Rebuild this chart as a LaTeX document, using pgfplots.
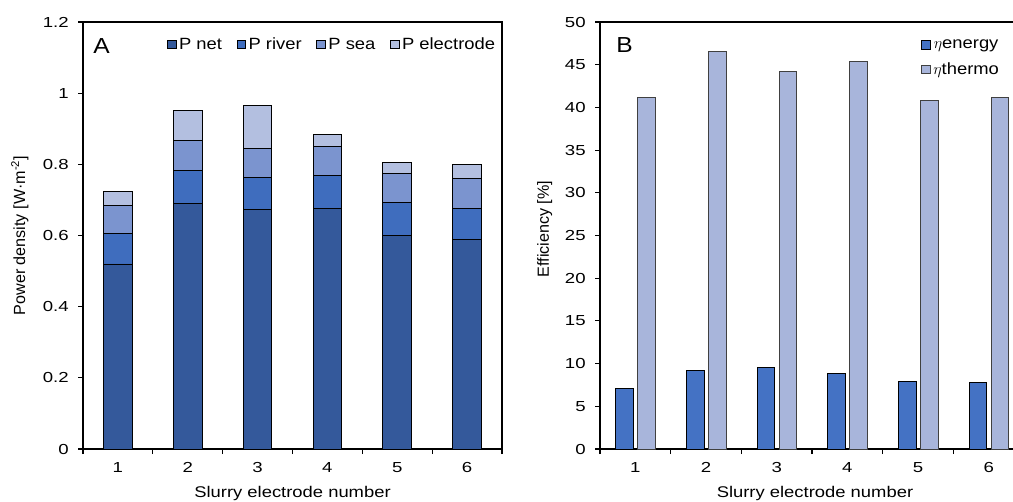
\documentclass[border=0pt]{standalone}
\usepackage{pgfplots}
\pgfplotsset{compat=1.18}
\usepackage{fontspec}
\setmainfont{Liberation Sans}[FakeStretch=1.13]
\newfontfamily\yfont{Liberation Sans}
\newfontfamily\tickfont{Liberation Sans}[FakeStretch=1.28]
\newfontfamily\xlabfont{Liberation Sans}[FakeStretch=1.19]
\definecolor{pnet}{HTML}{34599B}
\definecolor{priver}{HTML}{3F6DBE}
\definecolor{psea}{HTML}{7B94CF}
\definecolor{pelec}{HTML}{B3BFE0}
\definecolor{energy}{HTML}{4472C4}
\definecolor{thermo}{HTML}{A8B5DB}
\pgfplotsset{
  common/.style={
    scale only axis, anchor=south west,
    height=320.25pt,
    xmin=0.5, xmax=6.5, ymin=0,
    axis line style={line width=0.9pt},
    tick align=outside, ytick pos=left, xtick pos=bottom,
    major tick length=3.75pt,
    tick style={line width=0.8pt, black},
    xtick={0.5,1.5,...,6.5}, xticklabels={},
    extra x ticks={1,2,3,4,5,6},
    extra x tick labels={1,2,3,4,5,6},
    extra x tick style={major tick length=0pt},
    tick label style={font=\tickfont\fontsize{10.9pt}{12pt}\selectfont},
    yticklabel style={xshift=-3.5pt},
    xticklabel style={yshift=-6.3pt},
    /pgf/number format/assume math mode=true,
    xlabel style={anchor=base, inner sep=0pt, font=\xlabfont\fontsize{11.6pt}{14pt}\selectfont},
    ylabel style={anchor=base, inner sep=0pt, font=\yfont\fontsize{12.1pt}{14pt}\selectfont},
    legend style={draw=none, fill=none, font=\fontsize{12.2pt}{14pt}\selectfont},
  },
  sqlegend/.style={
    legend image code/.code={\draw[##1, line width=0.6pt] (0pt,-3.2pt) rectangle (6.4pt,3.2pt);},
  },
}
\begin{document}
\begin{tikzpicture}
\begin{axis}[common,
  at={(62.25pt,39pt)}, width=314.25pt,
  ymax=1.2, ytick={0,0.2,0.4,0.6,0.8,1,1.2},
  ybar stacked, bar width=0.41,
  sqlegend,
  xlabel={Slurry electrode number},
  xlabel style={at={(axis description cs:0.5,-0.114)}},
  ylabel={Power density [W·m\textsuperscript{-2}]},
  ylabel style={at={(axis description cs:-0.1384,0.5)}},
  legend columns=4,
  legend style={at={(rel axis cs:1.0,0.947)}, anchor=east,
    /tikz/every even column/.append style={column sep=9pt}},
]
\addplot[fill=pnet, draw=black, line width=0.7pt] coordinates {(1,0.52) (2,0.69) (3,0.672) (4,0.677) (5,0.601) (6,0.589)};
\addplot[fill=priver, draw=black, line width=0.7pt] coordinates {(1,0.085) (2,0.093) (3,0.091) (4,0.092) (5,0.092) (6,0.088)};
\addplot[fill=psea, draw=black, line width=0.7pt] coordinates {(1,0.08) (2,0.084) (3,0.082) (4,0.081) (5,0.08) (6,0.082)};
\addplot[fill=pelec, draw=black, line width=0.7pt] coordinates {(1,0.04) (2,0.083) (3,0.12) (4,0.034) (5,0.032) (6,0.041)};
\legend{P net, P river, P sea, P electrode}
\node[anchor=base west, inner sep=0pt, font=\fontsize{16.3pt}{18pt}\selectfont] at (rel axis cs:0.0239,0.9267) {A};
\end{axis}
\begin{axis}[common,
  at={(450pt,39pt)}, width=318pt,
  ymax=50, ytick={0,5,...,50},
  ybar, bar width=0.25,
  sqlegend,
  xlabel={Slurry electrode number},
  xlabel style={at={(axis description cs:0.507,-0.114)}},
  ylabel={Efficiency [\%]},
  ylabel style={at={(axis description cs:-0.1203,0.515)}},
  legend style={at={(rel axis cs:0.748,0.972)}, anchor=north west,
    row sep=5pt},
]
\addplot[fill=energy, draw=black, line width=0.75pt, bar shift=-0.15] coordinates {(1,7.08) (2,9.18) (3,9.58) (4,8.88) (5,7.86) (6,7.78)};
\addplot[fill=thermo, draw=black!75, line width=0.7pt, bar shift=0.16] coordinates {(1,41.13) (2,46.5) (3,44.2) (4,45.4) (5,40.8) (6,41.15)};
\legend{$\eta$energy, $\eta$thermo}
\node[anchor=base west, inner sep=0pt, font=\fontsize{16.3pt}{18pt}\selectfont] at (rel axis cs:0.0377,0.9286) {B};
\end{axis}
\pgfresetboundingbox
\path[use as bounding box] (0,0) rectangle (759.75pt,375.75pt);
\end{tikzpicture}
\end{document}
